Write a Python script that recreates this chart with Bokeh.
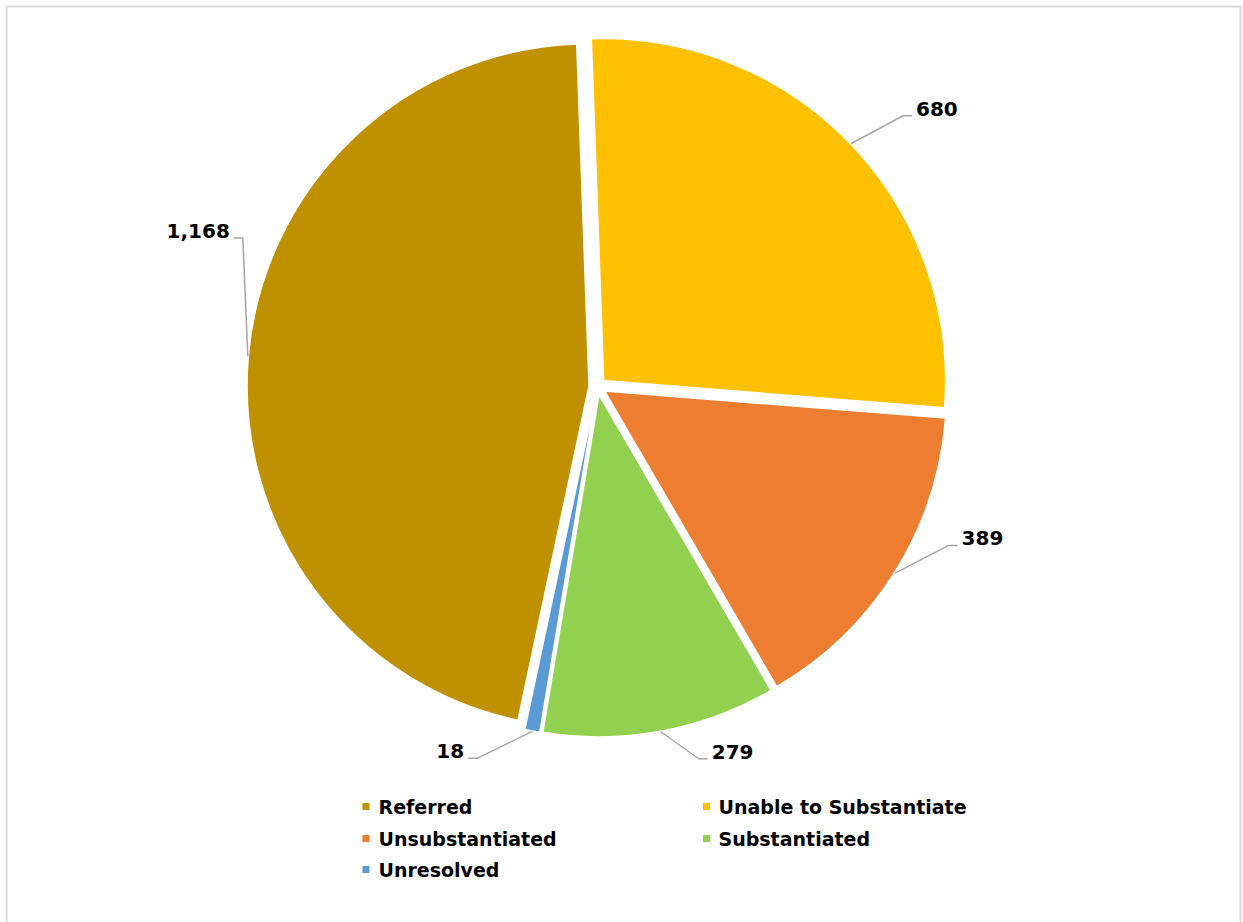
import math
from bokeh.plotting import figure
from bokeh.models import Range1d, ColumnDataSource
from bokeh.core.properties import value
from bokeh.embed import file_html
from bokeh.resources import INLINE

# ---- data ----
categories = ["Referred", "Unable to Substantiate", "Unsubstantiated", "Substantiated", "Unresolved"]
counts = [1168, 680, 389, 279, 18]
colors = ["#BF9000", "#FFC000", "#ED7D31", "#92D050", "#5B9BD5"]
first_slice_angle = 192.0  # degrees clockwise from 12 o'clock

# ---- layout ----
W, H = 1243, 922
OX, OY = 0, H            # screen->data: x = sx - OX, y = OY - sy
def dx(sx): return sx - OX
def dy(sy): return OY - sy

cx, cy = dx(597), dy(386)
R = 342
EXPLODE = 8.5
LABEL_DIST = R + EXPLODE + 0.5
# elbow offsets (screen px) from the slice's bisector point on the arc
elbow_off = [(-5, -118), (52, -28), (54, -28), (38, 27), (-55, 27)]

p = figure(width=W, height=H, output_backend="svg", toolbar_location=None,
           x_range=Range1d(0, W), y_range=Range1d(0, H),
           x_axis_location=None, y_axis_location=None, min_border=0)
p.grid.visible = False
p.outline_line_color = None
p.background_fill_color = "white"
p.border_fill_color = "white"

# chart frame (left, top, right edges; bottom lies below the window)
p.line([dx(6), dx(6), dx(1240), dx(1240)], [dy(930), dy(6), dy(6), dy(930)],
       line_color="#d9d9d9", line_width=2)

total = sum(counts)
theta = first_slice_angle
wx, wy, sa, ea, mids = [], [], [], [], []
for c in counts:
    span = c / total * 360.0
    t0, t1 = theta, theta + span
    tm = (t0 + t1) / 2
    mids.append(tm)
    r = math.radians(tm)
    wx.append(cx + EXPLODE * math.sin(r))
    wy.append(cy + EXPLODE * math.cos(r))
    sa.append(math.radians(90 - t1))
    ea.append(math.radians(90 - t0))
    theta = t1

src = ColumnDataSource(dict(x=wx, y=wy, start=sa, end=ea, color=colors, cat=categories))
p.wedge(x="x", y="y", radius=R, start_angle="start", end_angle="end",
        fill_color="color", line_color="white", line_width=1.5, source=src)

# ---- data labels with leader lines ----
for i, c in enumerate(counts):
    r = math.radians(mids[i])
    ax = cx + LABEL_DIST * math.sin(r)
    ay = cy + LABEL_DIST * math.cos(r)
    ex = ax + elbow_off[i][0]
    ey = ay - elbow_off[i][1]
    hdir = 1 if elbow_off[i][0] > 0 else -1
    p.line([ax, ex, ex + 9 * hdir], [ay, ey, ey], line_color="#a6a6a6", line_width=1.5)
    p.text(x=[ex + 13 * hdir], y=[ey + 7], text=[f"{c:,}"],
           text_font=value("DejaVu Sans"), text_font_style="bold", text_font_size="20px",
           text_color="black", text_align="left" if hdir > 0 else "right",
           text_baseline="middle")

# ---- legend ----
leg_cols = [dx(365.5), dx(706)]
leg_text_cols = [dx(378), dx(718)]
leg_rows = [dy(806), dy(838), dy(869)]
for i, name in enumerate(categories):
    row, col = divmod(i, 2)
    p.scatter([leg_cols[col]], [leg_rows[row]], marker="square", size=7,
              fill_color=colors[i], line_color=None)
    p.text(x=[leg_text_cols[col]], y=[leg_rows[row]], text=[name],
           text_font=value("DejaVu Sans"), text_font_style="bold", text_font_size="19px",
           text_color="black", text_align="left", text_baseline="middle")

open("out.html", "w").write(file_html(p, INLINE))
